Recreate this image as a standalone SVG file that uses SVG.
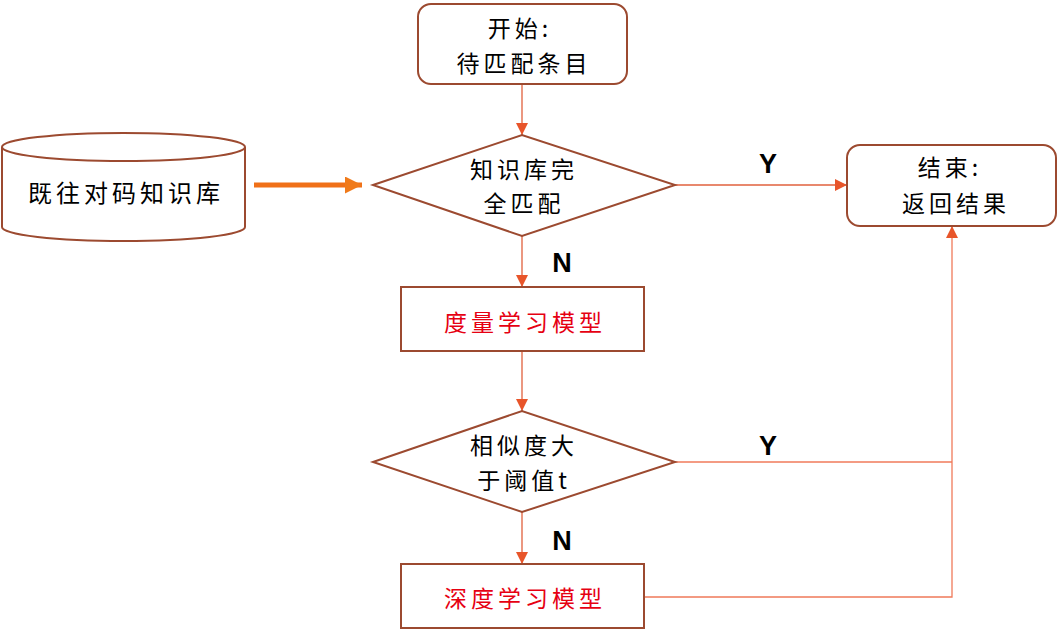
<svg xmlns="http://www.w3.org/2000/svg" width="1058" height="633" viewBox="0 0 1058 633">
<defs>
<style>
.node{fill:#fff;stroke:#9c4a30;stroke-width:2}
.t{font-family:"Noto Sans CJK SC","Noto Sans CJK JP",sans-serif;font-size:23px;letter-spacing:4px;fill:#000;text-anchor:middle}
.r{fill:#e60012}
.lbl{font-family:"Liberation Sans",Arial,sans-serif;font-size:27px;font-weight:bold;fill:#000;text-anchor:middle}
.c{fill:none;stroke:#e0603c;stroke-width:1.3}
.c2{fill:none;stroke:#f07a5a;stroke-width:1.3}
</style>
<marker id="ah" viewBox="0 0 10 10" refX="10" refY="5" markerWidth="12" markerHeight="12" markerUnits="userSpaceOnUse" orient="auto">
<path d="M0,0 L10,5 L0,10 z" fill="#e8552a"/>
</marker>
<marker id="ah2" viewBox="0 0 10 10" refX="10" refY="5" markerWidth="3.4" markerHeight="3.4" orient="auto">
<path d="M0,0 L10,5 L0,10 z" fill="#f07a1a"/>
</marker>
</defs>
<rect width="1058" height="633" fill="#fff"/>
<g id="connectors">
<line class="c" x1="522" y1="84" x2="522" y2="135" marker-end="url(#ah)"/>
<line x1="254" y1="185" x2="362" y2="185" stroke="#f07018" stroke-width="5" marker-end="url(#ah2)"/>
<line class="c" x1="675" y1="185" x2="847" y2="185" marker-end="url(#ah)"/>
<line class="c" x1="522" y1="236" x2="522" y2="287" marker-end="url(#ah)"/>
<line class="c" x1="522" y1="351" x2="522" y2="411" marker-end="url(#ah)"/>
<line class="c" x1="522" y1="512" x2="522" y2="564" marker-end="url(#ah)"/>
<polyline class="c2" points="675,462 952,462"/>
<polyline class="c2" points="644,597 952,597 952,226" marker-end="url(#ah)"/>
<text class="lbl" x="768" y="173">Y</text>
<text class="lbl" x="562" y="272">N</text>
<text class="lbl" x="768" y="455">Y</text>
<text class="lbl" x="562" y="550">N</text>
</g>
<g id="start">
<rect class="node" x="418" y="4" width="209" height="80" rx="13"/>
<text class="t" x="520" y="37">开始:</text>
<text class="t" x="524" y="72">待匹配条目</text>
</g>
<g id="kb">
<path class="node" d="M2,147 L2,227 A121.5,14 0 0 0 245,227 L245,147 A121.5,14 0 0 0 2,147 Z"/>
<path class="node" fill="none" d="M2,147 A121.5,14 0 0 0 245,147"/>
<text class="t" x="126" y="202" style="font-size:24px">既往对码知识库</text>
</g>
<g id="decision1">
<polygon class="node" points="373,185 522,135 675,185 522,236"/>
<text class="t" x="524" y="178">知识库完</text>
<text class="t" x="524" y="212">全匹配</text>
</g>
<g id="end">
<rect class="node" x="847" y="145" width="209" height="81" rx="13"/>
<text class="t" x="950" y="176">结束:</text>
<text class="t" x="956" y="212">返回结果</text>
</g>
<g id="metric">
<rect class="node" x="401" y="287" width="243" height="64"/>
<text class="t r" x="525" y="331">度量学习模型</text>
</g>
<g id="decision2">
<polygon class="node" points="373,462 522,411 675,462 522,512"/>
<text class="t" x="524" y="454">相似度大</text>
<text class="t" x="524" y="489">于阈值t</text>
</g>
<g id="deep">
<rect class="node" x="401" y="564" width="243" height="64"/>
<text class="t r" x="525" y="607">深度学习模型</text>
</g>
</svg>
